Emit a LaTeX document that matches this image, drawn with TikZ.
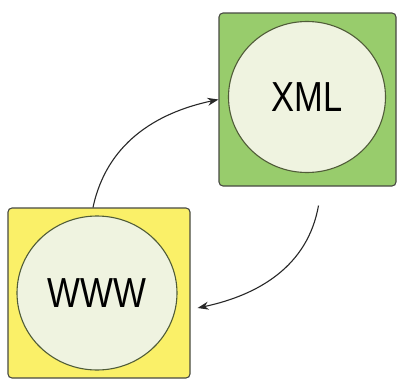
\documentclass[tikz,border=0pt]{standalone}
\usepackage{fontspec}
\setmainfont{Liberation Sans}
\usetikzlibrary{arrows.meta,shapes.geometric}
\definecolor{boxgreen}{RGB}{152,204,108}
\definecolor{boxyellow}{RGB}{250,240,104}
\definecolor{discfill}{RGB}{239,243,224}
\definecolor{discline}{RGB}{80,92,56}
\definecolor{frameline}{RGB}{72,74,66}
\definecolor{wireline}{RGB}{40,40,40}
\begin{document}
\begin{tikzpicture}[x=1pt,y=-1pt,
  panel/.style={draw=frameline,line width=1.1pt,rounded corners=4pt,inner sep=0pt},
  disc/.style={ellipse,draw=discline,line width=1.1pt,fill=discfill,inner sep=0pt,
    font=\fontsize{42}{42}\selectfont},
  wire/.style={draw=wireline,line width=1.1pt,-{Stealth[length=11pt,width=8pt]}}]
\useasboundingbox (0,0) rectangle (399,380);
\fill[white] (0,0) rectangle (399,380);
% XML panel
\node[panel,fill=boxgreen,minimum width=177pt,minimum height=173pt] (xmlbox) at (307.5,99.5) {};
\node[disc,minimum width=157pt,minimum height=151pt] (xml) at (307,97) {\scalebox{0.82}[1]{XML}};
% WWW panel
\node[panel,fill=boxyellow,minimum width=182pt,minimum height=170pt] (wwwbox) at (99,293) {};
\node[disc,minimum width=160pt,minimum height=154pt] (www) at (97,293) {\scalebox{0.83}[1]{WWW}};
% free ends of the return connector
\coordinate (back) at ([shift={(11,19)}]xmlbox.south);
\coordinate (backend) at ([shift={(7,15)}]wwwbox.east);
% connectors
\draw[wire] ([xshift=-6pt]wwwbox.north) to[out=78,in=192] (xmlbox.west);
\draw[wire] (back) to[out=-100,in=12] (backend);
\end{tikzpicture}
\end{document}
